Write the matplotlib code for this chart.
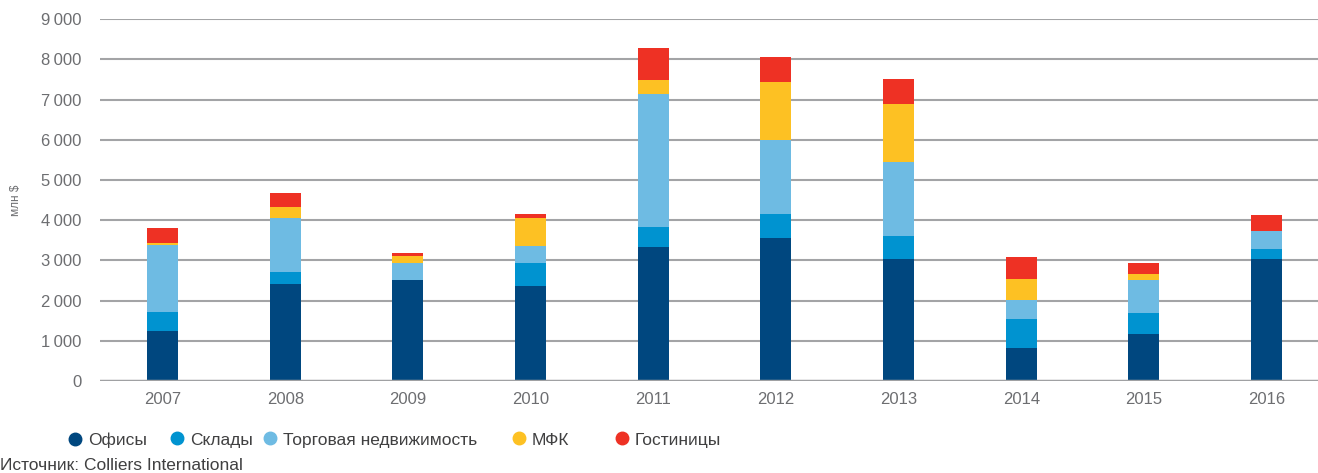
#!/usr/bin/env python3

#----------Required Modules----------#

import numpy as np
import matplotlib
matplotlib.use('Agg')
import matplotlib.pyplot as plt
from matplotlib.lines import Line2D

#----------Data (млн $)----------#

years = ['2007', '2008', '2009', '2010', '2011', '2012', '2013', '2014', '2015', '2016']

offices = [1250, 2410, 2510, 2370, 3330, 3570, 3040, 820, 1160, 3040]
warehouses = [475, 290, 0, 570, 490, 580, 580, 720, 520, 240]
retail = [1660, 1350, 430, 430, 3320, 1840, 1830, 480, 830, 440]
mfk = [40, 280, 180, 680, 340, 1440, 1450, 530, 140, 0]
hotels = [380, 350, 60, 100, 810, 620, 620, 530, 290, 420]

series_names = ['Офисы', 'Склады', 'Торговая недвижимость', 'МФК', 'Гостиницы']
series_colors = ['#00477f', '#0093d0', '#6ebbe3', '#fdc123', '#ee3124']

y_ticks = [0, 1000, 2000, 3000, 4000, 5000, 6000, 7000, 8000, 9000]

#----------Plot----------#

plt.rcParams['font.family'] = ['Liberation Sans', 'DejaVu Sans']

fig = plt.figure(figsize=(13.18, 4.73), dpi=100)
ax = fig.add_axes([100 / 1318, 1 - 381 / 473, 1 - 100 / 1318, (381 - 19.3) / 473])

x = np.arange(len(years))
bottom = np.zeros(len(years))
for values, color in zip([offices, warehouses, retail, mfk, hotels], series_colors):
    ax.bar(x, values, width=0.253, bottom=bottom, color=color, zorder=3)
    bottom += np.array(values)

ax.set_xlim(-0.511, 9.42)
ax.set_ylim(0, 9000)
ax.set_yticks(y_ticks)
ax.set_yticklabels([f'{v:,}'.replace(',', '\u2009') for v in y_ticks])
ax.set_xticks(x)
ax.set_xticklabels(years)

for v in y_ticks[1:]:
    ax.axhline(v, color='#a3a4a6', linewidth=1.5, zorder=1)
ax.axhline(0, color='#a0a1a3', linewidth=2.5, zorder=4)

for side in ['top', 'right', 'left', 'bottom']:
    ax.spines[side].set_visible(False)
ax.tick_params(axis='both', length=0, colors='#6d6e71', labelsize=12)
ax.tick_params(axis='y', pad=13.5)
ax.tick_params(axis='x', pad=8)

fig.text(16 / 1318, 1 - 200 / 473, 'млн $', rotation=90, ha='center', va='center',
         fontsize=8.5, color='#6d6e71')

#Legend entries placed one by one, the spacing in the original is uneven
legend_x = [75, 177, 270, 519, 622]
for name, color, px in zip(series_names, series_colors, legend_x):
    handle = Line2D([], [], marker='o', linestyle='none', markersize=9,
                    markerfacecolor=color, markeredgecolor=color)
    fig.legend([handle], [name], loc='center left', bbox_to_anchor=((px - 8.7) / 1318, 1 - 440 / 473),
               frameon=False, fontsize=12.5, handlelength=1.0, handletextpad=0.25,
               labelcolor='#404041', borderaxespad=0, borderpad=0)

fig.text(0, 1 - 465 / 473, 'Источник: Colliers International', ha='left', va='center',
         fontsize=12.5, color='#404041')

fig.savefig('out.png', dpi=100)
